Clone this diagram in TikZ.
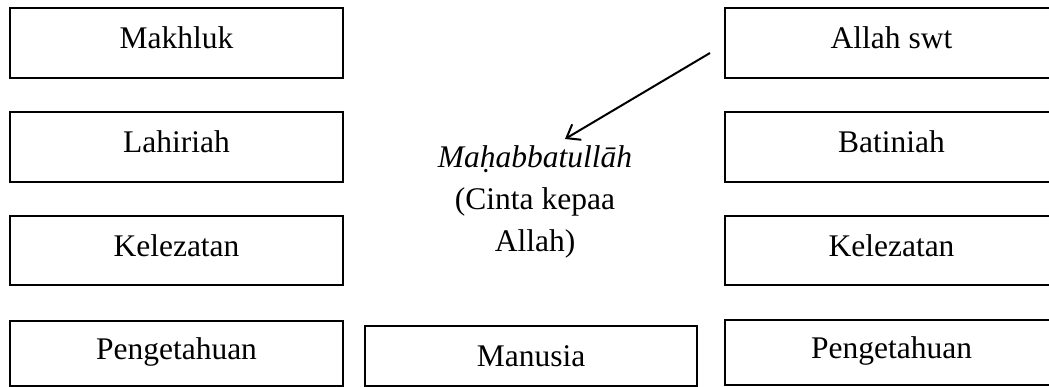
\documentclass[tikz,border=0pt]{standalone}
\usepackage{fontspec}
\setmainfont{Liberation Serif}
\usetikzlibrary{arrows.meta}
\begin{document}
\begin{tikzpicture}[x=1pt,y=-1pt,
  box/.style={draw, line width=2.4pt, minimum width=333pt, minimum height=70pt,
    inner sep=0pt, text height=22pt, text depth=10pt,
    font=\fontsize{31.5}{37}\selectfont},
  arrowline/.style={line width=2pt, -{Straight Barb[length=12pt,width=18pt,line width=2pt]}}]
\useasboundingbox (0,0) rectangle (1049,387);
\begin{scope}
\clip (0,0) rectangle (1049,387);
\node[box] (makhluk) at (176.5,43) {Makhluk};
\node[box] (lahiriah) at (176.5,147) {Lahiriah};
\node[box, minimum height=69pt, text height=22.5pt] (kelL) at (176.5,250.5) {Kelezatan};
\node[box, minimum height=65pt, text height=22.5pt] (pengL) at (176.5,353.5) {Pengetahuan};
\node[box, minimum width=332pt, minimum height=60pt, text height=26pt, text depth=6pt] (manusia) at (531,356) {Manusia};
\node[box] (allah) at (891.5,43) {Allah swt};
\node[box] (batiniah) at (891.5,147) {Batiniah};
\node[box, minimum height=69pt, text height=22.5pt] (kelR) at (891.5,250.5) {Kelezatan};
\node[box, minimum height=65pt, text height=22.5pt] (pengR) at (891.5,352.5) {Pengetahuan};
\end{scope}
\node[anchor=base, align=center, inner sep=0pt, font=\fontsize{31.5}{42.5}\selectfont] (mahabba) at (535,252)
  {\textit{Maḥabbatullāh}\\(Cinta kepaa\\Allah)};
\coordinate (from) at (710,53);
\coordinate (to) at (565,139);
\draw[arrowline] (from) -- (to);
\end{tikzpicture}
\end{document}
